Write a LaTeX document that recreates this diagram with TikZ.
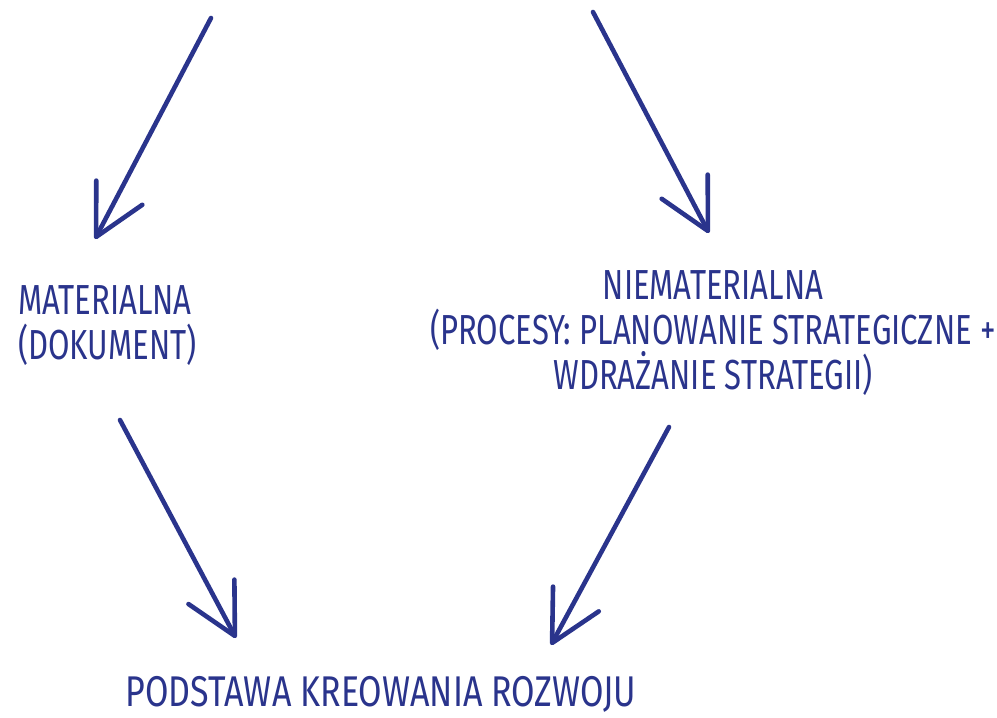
\documentclass[tikz,border=0pt]{standalone}
\usepackage{fontspec}
\newfontfamily\hand[FakeStretch=0.74]{Fira Sans}
\newfontfamily\handwide[FakeStretch=0.79]{Fira Sans}
\usetikzlibrary{arrows.meta}
\definecolor{ink}{RGB}{42,52,140}
\tikzset{
  conn/.style={draw=ink, line width=4.6pt, line cap=round, line join=round,
    -{Straight Barb[length=50pt, width=52pt, line width=4.6pt, round]}},
  lbl/.style={text=ink, font=\hand\fontsize{42}{45}\selectfont, inner sep=0pt}
}
\begin{document}
\begin{tikzpicture}[x=1pt,y=-1pt]
\useasboundingbox (0,0) rectangle (997,718);
\node[lbl, anchor=north west, align=left] (mat) at (18,285) {MATERIALNA\\(DOKUMENT)};
\node[lbl, anchor=center, align=center] (niemat) at (713,333) {NIEMATERIALNA\\(PROCESY: PLANOWANIE STRATEGICZNE +\\WDRAŻANIE STRATEGII)};
\node[lbl, anchor=center, font=\handwide\fontsize{43}{45}\selectfont] (pod) at (381,694) {PODSTAWA KREOWANIA ROZWOJU};
\coordinate (s1) at (211,18);
\coordinate (t1) at (95,239);
\coordinate (s2) at (593,12);
\coordinate (t2) at (709,233);
\coordinate (s3) at (120,420);
\coordinate (t3) at (236,638);
\coordinate (s4) at (669,427);
\coordinate (t4) at (551,645);
\draw[conn] (s1) -- (t1);
\draw[conn] (s2) -- (t2);
\draw[conn] (s3) -- (t3);
\draw[conn] (s4) -- (t4);
\end{tikzpicture}
\end{document}
